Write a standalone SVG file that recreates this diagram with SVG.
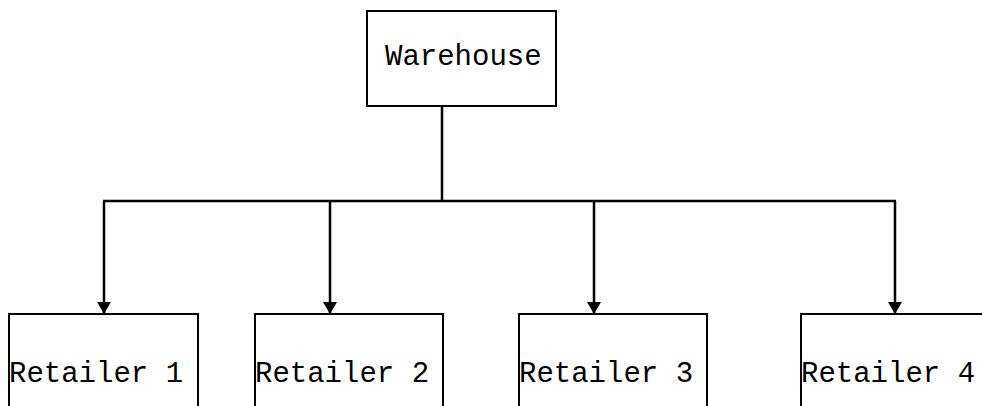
<svg xmlns="http://www.w3.org/2000/svg" width="982" height="406" viewBox="0 0 982 406">
  <style>
    .box { fill: #ffffff; stroke: #000000; stroke-width: 2; }
    .label { font-family: "Liberation Mono", "Courier New", monospace; font-size: 29px; fill: #000000; }
    .wire { fill: none; stroke: #000000; stroke-width: 2.5; }
  </style>
  <defs>
    <marker id="arrow" viewBox="0 0 12 14" refX="12" refY="7" markerWidth="12" markerHeight="14" markerUnits="userSpaceOnUse" orient="auto">
      <path d="M0,0 L12,7 L0,14 Z" fill="#000000"/>
    </marker>
  </defs>
  <rect width="982" height="406" fill="#ffffff"/>

  <g id="connectors">
    <line class="wire" x1="442" y1="106" x2="442" y2="201"/>
    <line class="wire" x1="103" y1="201" x2="896" y2="201"/>
    <line class="wire" x1="104" y1="201" x2="104" y2="314" marker-end="url(#arrow)"/>
    <line class="wire" x1="330" y1="201" x2="330" y2="314" marker-end="url(#arrow)"/>
    <line class="wire" x1="594" y1="201" x2="594" y2="314" marker-end="url(#arrow)"/>
    <line class="wire" x1="895" y1="201" x2="895" y2="314" marker-end="url(#arrow)"/>
  </g>

  <g id="warehouse">
    <rect class="box" x="367" y="11" width="189" height="95"/>
    <text class="label" x="385" y="65">Warehouse</text>
  </g>

  <g id="retailer1">
    <rect class="box" x="9" y="314" width="189" height="120"/>
    <text class="label" x="9" y="382">Retailer 1</text>
  </g>

  <g id="retailer2">
    <rect class="box" x="255" y="314" width="188" height="120"/>
    <text class="label" x="255" y="382">Retailer 2</text>
  </g>

  <g id="retailer3">
    <rect class="box" x="519" y="314" width="188" height="120"/>
    <text class="label" x="519" y="382">Retailer 3</text>
  </g>

  <g id="retailer4">
    <rect class="box" x="801" y="314" width="200" height="120"/>
    <text class="label" x="801" y="382">Retailer 4</text>
  </g>
</svg>
